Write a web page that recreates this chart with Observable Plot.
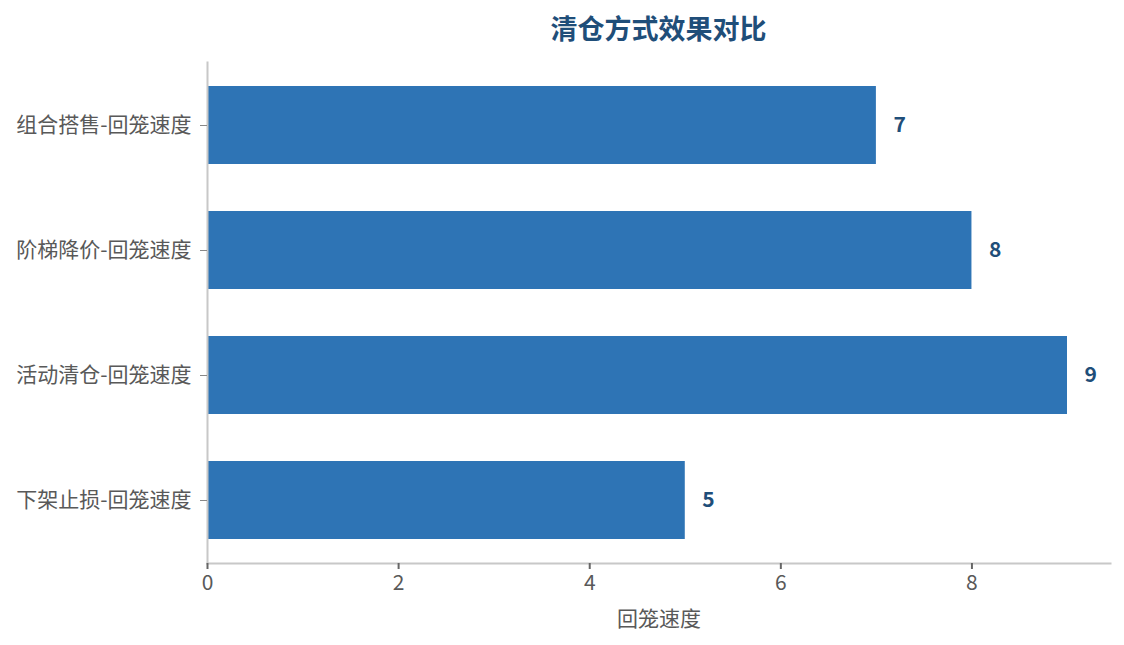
<!DOCTYPE html>
<html>
<head>
<meta charset="utf-8">
<script src="https://cdn.jsdelivr.net/npm/d3@7"></script>
<script src="https://cdn.jsdelivr.net/npm/@observablehq/plot@0.6"></script>
<style>
  html, body { margin: 0; padding: 0; background: #fff; }
  #wrap { width: 1124px; height: 645px; position: relative; font-family: "Noto Sans CJK SC", "Noto Sans", sans-serif; }
  #title { height: 50px; line-height: 56px; box-sizing: border-box; padding-left: 207px; padding-right: 14px; text-align: center; font-size: 27px; font-weight: bold; color: #1f4e79; }
</style>
</head>
<body>
<div id="wrap">
  <div id="title">清仓方式效果对比</div>
  <div id="chart"></div>
</div>
<script>
const categories = ["组合搭售-回笼速度", "阶梯降价-回笼速度", "活动清仓-回笼速度", "下架止损-回笼速度"];
const values = [7, 8, 9, 5];
const xTicks = [0, 2, 4, 6, 8];
const xLabel = "回笼速度";

const data = categories.map((c, i) => ({cat: c, value: values[i]}));

const chart = Plot.plot({
  width: 1124,
  height: 595,
  marginTop: 12,
  marginBottom: 82,
  marginLeft: 207,
  marginRight: 14,
  style: {fontFamily: '"Noto Sans CJK SC", "Noto Sans", sans-serif', background: "#fff"},
  x: {domain: [0, 9.45]},
  y: {domain: categories, paddingInner: 0.38, paddingOuter: 0.19},
  marks: [
    Plot.barX(data, {x: "value", y: "cat", fill: "#2e74b5"}),
    Plot.frame({anchor: "left", stroke: "#c8c8c8", strokeWidth: 2}),
    Plot.frame({anchor: "bottom", stroke: "#c8c8c8", strokeWidth: 2}),
    Plot.axisX({ticks: xTicks, tickSize: 6, tickPadding: 6, fontSize: 21, fill: "#595959", stroke: "#666", strokeWidth: 2, label: xLabel, labelAnchor: "center", labelArrow: "none", labelOffset: 62}),
    Plot.axisY({tickSize: 7, tickPadding: 9, fontSize: 21, fill: "#595959", stroke: "#888", label: null}),
    Plot.text(data, {x: "value", y: "cat", text: d => String(d.value), dx: 17, textAnchor: "start", fontWeight: "bold", fontSize: 21, fill: "#1f4e79"})
  ]
});
document.getElementById("chart").appendChild(chart);
</script>
</body>
</html>
